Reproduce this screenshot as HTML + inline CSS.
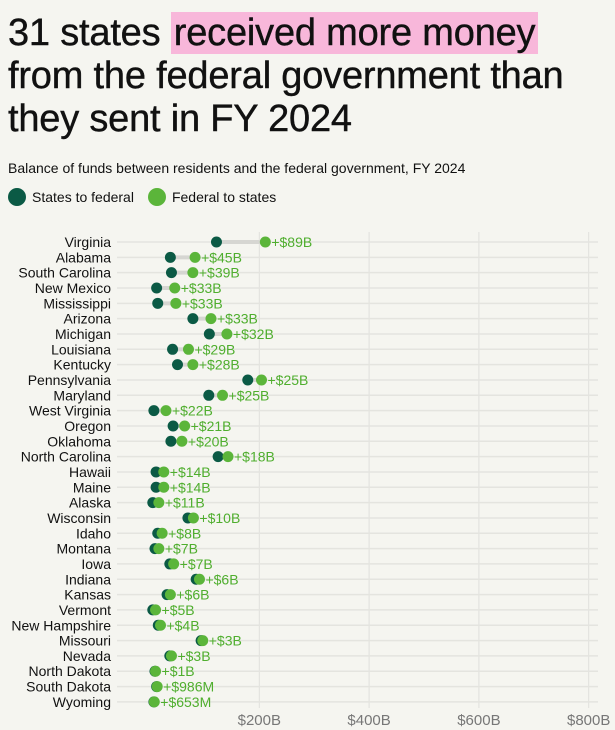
<!DOCTYPE html>
<html><head><meta charset="utf-8"><style>
body{margin:0;background:#f5f5f0;font-family:"Liberation Sans",sans-serif;color:#111;}
#wrap{position:relative;width:615px;height:730px;overflow:hidden;}
h1{position:absolute;left:8px;top:12px;margin:0;font-size:38px;line-height:43px;font-weight:500;letter-spacing:-0.2px;width:615px;white-space:nowrap;-webkit-text-stroke:0.4px #111;}
.hl{background:#f8b7da;padding:0 3px;}
#sub{position:absolute;left:8px;top:160px;font-size:14px;}
#legend{position:absolute;left:8px;top:188px;font-size:14px;display:flex;align-items:center;}
.dot{display:inline-block;width:18px;height:18px;border-radius:50%;margin-right:6px;}
</style></head><body>
<div id="wrap">
<h1>31 states <span class="hl">received more money</span><br>from the federal government than<br>they sent in FY 2024</h1>
<div id="sub">Balance of funds between residents and the federal government, FY 2024</div>
<div id="legend">
<span class="dot" style="background:#0b5a45"></span><span style="margin-right:14px">States to federal</span>
<span class="dot" style="background:#5bb53a"></span><span>Federal to states</span>
</div>
<svg id="chart" width="615" height="730" style="position:absolute;left:0;top:0"></svg>
</div>
<script>
const states=["Virginia","Alabama","South Carolina","New Mexico","Mississippi","Arizona","Michigan","Louisiana","Kentucky","Pennsylvania","Maryland","West Virginia","Oregon","Oklahoma","North Carolina","Hawaii","Maine","Alaska","Wisconsin","Idaho","Montana","Iowa","Indiana","Kansas","Vermont","New Hampshire","Missouri","Nevada","North Dakota","South Dakota","Wyoming"];
const statesToFederal=[122,38,40,13,15,79,109,42,51,179,108,8,43,39,125,12,12,6,70,15,10,37,85,32,6,16,94,37,10,13,8];
const federalToStates=[211,83,79,46,48,112,141,71,79,204,133,30,64,59,143,26,26,17,80,23,17,44,91,38,11,20,97,40,11,14,8.7];
const balanceLabels=["+$89B","+$45B","+$39B","+$33B","+$33B","+$33B","+$32B","+$29B","+$28B","+$25B","+$25B","+$22B","+$21B","+$20B","+$18B","+$14B","+$14B","+$11B","+$10B","+$8B","+$7B","+$7B","+$6B","+$6B","+$5B","+$4B","+$3B","+$3B","+$1B","+$986M","+$653M"];
const ticks=[200,400,600,800];
const tickLabels=["$200B","$400B","$600B","$800B"];
const svg=document.getElementById('chart');
const NS='http://www.w3.org/2000/svg';
const x=v=>149.5+v*0.549;
const y=i=>242+i*15.33;
function mk(t,a){const e=document.createElementNS(NS,t);for(const k in a)e.setAttribute(k,a[k]);svg.appendChild(e);return e;}
ticks.forEach((t,i)=>{
 const g=mk('line',{x1:x(t),x2:x(t),y1:232,y2:708,stroke:'#e0e0dc','stroke-width':1});
 
 
 const l=mk('text',{x:x(t),y:725,'text-anchor':'middle','font-size':15,fill:'#777','font-family':'Liberation Sans, sans-serif'});
 l.textContent=tickLabels[i];
 
 
});
states.forEach((s,i)=>{
 const yy=y(i);
 const r=mk('line',{x1:117,x2:598,y1:yy,y2:yy,stroke:'#e4e4df','stroke-width':1.5});
 
 
 const c=mk('line',{x1:x(statesToFederal[i]),x2:x(federalToStates[i]),y1:yy,y2:yy,stroke:'#d6d6d2','stroke-width':4});
 
 
 const lb=mk('text',{x:111,y:yy+5,'text-anchor':'end','font-size':14,fill:'#111','font-family':'Liberation Sans, sans-serif'});
 lb.textContent=s;
 
 
 const d=mk('circle',{cx:x(statesToFederal[i]),cy:yy,r:5.5,fill:'#0b5a45'});
 
 
 const f=mk('circle',{cx:x(federalToStates[i]),cy:yy,r:5.5,fill:'#5bb53a'});
 
 
 const v=mk('text',{x:x(federalToStates[i])+6,y:yy+5,'font-size':14,fill:'#4fae2e','font-family':'Liberation Sans, sans-serif'});
 v.textContent=balanceLabels[i];
 
 
});
</script>
</body></html>
